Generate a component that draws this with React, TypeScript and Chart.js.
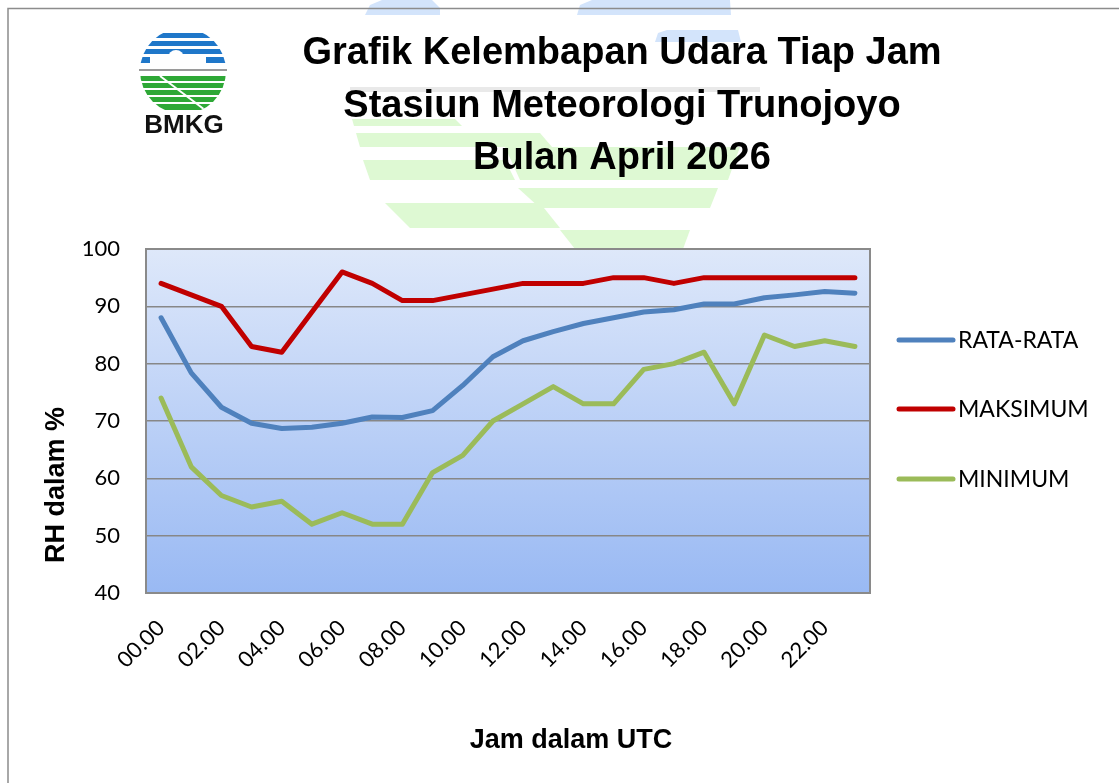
import React, { useEffect, useRef } from "react";
import { Chart, registerables } from "chart.js";

Chart.register(...registerables);

const HOURS = [
  "00.00", "01.00", "02.00", "03.00", "04.00", "05.00", "06.00", "07.00",
  "08.00", "09.00", "10.00", "11.00", "12.00", "13.00", "14.00", "15.00",
  "16.00", "17.00", "18.00", "19.00", "20.00", "21.00", "22.00", "23.00",
];
const X_TICK_LABELS = ["00.00", "02.00", "04.00", "06.00", "08.00", "10.00", "12.00", "14.00", "16.00", "18.00", "20.00", "22.00"];
const RATA_RATA = [88.0, 78.4, 72.4, 69.6, 68.7, 68.9, 69.6, 70.7, 70.6, 71.8, 76.2, 81.2, 84.0, 85.6, 87.0, 88.0, 89.0, 89.4, 90.4, 90.4, 91.5, 92.0, 92.6, 92.3];
const MAKSIMUM = [94, 92, 90, 83, 82, 89, 96, 94, 91, 91, 92, 93, 94, 94, 94, 95, 95, 94, 95, 95, 95, 95, 95, 95];
const MINIMUM = [74, 62, 57, 55, 56, 52, 54, 52, 52, 61, 64, 70, 73, 76, 73, 73, 79, 80, 82, 73, 85, 83, 84, 83];
const SERIES_NAMES = ["RATA-RATA", "MAKSIMUM", "MINIMUM"];
const Y_TICKS = [40, 50, 60, 70, 80, 90, 100];

const TITLE_LINES = ["Grafik Kelembapan Udara Tiap Jam", "Stasiun Meteorologi Trunojoyo", "Bulan April 2026"];
const X_TITLE = "Jam dalam UTC";
const Y_TITLE = "RH dalam %";

const TITLE_FONT = "bold 38px 'Liberation Sans', Arial, sans-serif";
const AXIS_TITLE_FONT = "bold 27px 'Liberation Sans', Arial, sans-serif";
const TICK_FAMILY = "Lato, 'Noto Sans', sans-serif";

type Pt = [number, number];
function poly(ctx: CanvasRenderingContext2D, pts: Pt[]) {
  ctx.beginPath();
  ctx.moveTo(pts[0][0], pts[0][1]);
  for (let i = 1; i < pts.length; i++) ctx.lineTo(pts[i][0], pts[i][1]);
  ctx.closePath();
  ctx.fill();
}

function drawWatermark(ctx: CanvasRenderingContext2D) {
  ctx.save();
  ctx.fillStyle = "#d3e4fb";
  poly(ctx, [[365, 15], [370, 5], [382, 0], [432, 0], [440, 8], [440, 15]]);
  poly(ctx, [[577, 15], [580, 5], [592, 0], [730, 0], [731, 15]]);
  poly(ctx, [[655, 42], [658, 33], [667, 30], [738, 30], [741, 42]]);
  ctx.fillStyle = "#e9e9e9";
  ctx.fillRect(350, 87, 410, 5);
  ctx.fillStyle = "#def9d3";
  poly(ctx, [[352, 119], [455, 119], [462, 126], [354, 126]]);
  poly(ctx, [[356, 133], [540, 133], [552, 147], [360, 147]]);
  poly(ctx, [[505, 147], [740, 147], [728, 180], [520, 180]]);
  poly(ctx, [[363, 160], [505, 160], [515, 180], [370, 180]]);
  poly(ctx, [[518, 188], [718, 188], [710, 208], [540, 208]]);
  poly(ctx, [[385, 203], [540, 203], [560, 228], [410, 228]]);
  poly(ctx, [[560, 230], [690, 230], [683, 249], [575, 249]]);
  ctx.restore();
}

function drawLogo(ctx: CanvasRenderingContext2D) {
  const cx = 183, cy = 71, r = 43;
  ctx.save();
  ctx.beginPath();
  ctx.arc(cx, cy, r, 0, Math.PI * 2);
  ctx.clip();
  ctx.fillStyle = "#1f77c9";
  [[33, 38], [41, 46], [49, 54], [57, 63]].forEach(([a, b]) => ctx.fillRect(cx - r, a, 2 * r, b - a));
  ctx.fillStyle = "#ffffff";
  ctx.fillRect(150, 57, 56, 8);
  ctx.beginPath(); ctx.arc(176, 58, 8, 0, Math.PI * 2); ctx.fill();
  ctx.beginPath(); ctx.arc(162, 60, 5, 0, Math.PI * 2); ctx.fill();
  ctx.beginPath(); ctx.arc(192, 60, 6, 0, Math.PI * 2); ctx.fill();
  ctx.fillStyle = "#2ea836";
  [[76, 81], [83, 88], [90, 95], [97, 102], [104, 110]].forEach(([a, b]) => ctx.fillRect(cx - r, a, 2 * r, b - a));
  ctx.strokeStyle = "#ffffff";
  ctx.lineWidth = 2;
  ctx.beginPath(); ctx.moveTo(160, 76); ctx.lineTo(205, 110); ctx.stroke();
  ctx.restore();
  ctx.fillStyle = "#9a9a9a";
  ctx.fillRect(139, 69, 88, 2);
  ctx.fillStyle = "#111111";
  ctx.font = "bold 26px 'Liberation Sans', Arial, sans-serif";
  ctx.textAlign = "center";
  ctx.textBaseline = "alphabetic";
  ctx.fillText("BMKG", 184, 133);
}

const decorPlugin = {
  id: "decor",
  beforeDraw(chart: any) {
    const ctx: CanvasRenderingContext2D = chart.ctx;
    const { left, top, right, bottom } = chart.chartArea;
    ctx.save();
    ctx.fillStyle = "#ffffff";
    ctx.fillRect(0, 0, chart.width, chart.height);
    drawWatermark(ctx);
    ctx.strokeStyle = "#8c8c8c";
    ctx.lineWidth = 1.5;
    ctx.beginPath();
    ctx.moveTo(8, chart.height);
    ctx.lineTo(8, 8.5);
    ctx.lineTo(chart.width, 8.5);
    ctx.stroke();
    const g = ctx.createLinearGradient(0, top, 0, bottom);
    g.addColorStop(0, "#dee8fa");
    g.addColorStop(1, "#99b9f3");
    ctx.fillStyle = g;
    ctx.fillRect(left, top, right - left, bottom - top);
    drawLogo(ctx);
    ctx.fillStyle = "#000000";
    ctx.font = TITLE_FONT;
    ctx.textAlign = "center";
    ctx.textBaseline = "alphabetic";
    const baselines = [64, 117, 169];
    TITLE_LINES.forEach((t, i) => ctx.fillText(t, 622, baselines[i]));
    ctx.font = AXIS_TITLE_FONT;
    ctx.fillText(X_TITLE, 571, 748);
    ctx.save();
    ctx.translate(57, 485);
    ctx.rotate(-Math.PI / 2);
    ctx.textBaseline = "middle";
    ctx.fillText(Y_TITLE, 0, 0);
    ctx.restore();
    const legendY = [340, 409, 479];
    chart.data.datasets.forEach((ds: any, i: number) => {
      ctx.strokeStyle = ds.borderColor;
      ctx.lineWidth = 5;
      ctx.lineCap = "round";
      ctx.beginPath();
      ctx.moveTo(899, legendY[i]);
      ctx.lineTo(953, legendY[i]);
      ctx.stroke();
      ctx.fillStyle = "#000000";
      ctx.font = `23px ${TICK_FAMILY}`;
      ctx.textAlign = "left";
      ctx.textBaseline = "middle";
      ctx.fillText(ds.label, 958, legendY[i] + 1);
    });
    ctx.restore();
  },
  beforeDatasetsDraw(chart: any) {
    const ctx: CanvasRenderingContext2D = chart.ctx;
    const { left, top, right, bottom } = chart.chartArea;
    ctx.save();
    ctx.strokeStyle = "#8a8a8a";
    ctx.lineWidth = 2;
    ctx.strokeRect(left, top, right - left, bottom - top);
    ctx.restore();
  },
};

export default function App() {
  const ref = useRef<HTMLCanvasElement | null>(null);
  useEffect(() => {
    document.body.style.margin = "0";
    document.body.style.overflow = "hidden";
    const canvas = ref.current!;
    const chart = new Chart(canvas, {
      type: "line",
      data: {
        labels: HOURS,
        datasets: [
          { label: SERIES_NAMES[0], data: RATA_RATA, borderColor: "#4f81bd", backgroundColor: "#4f81bd" },
          { label: SERIES_NAMES[1], data: MAKSIMUM, borderColor: "#c00000", backgroundColor: "#c00000" },
          { label: SERIES_NAMES[2], data: MINIMUM, borderColor: "#9bbb59", backgroundColor: "#9bbb59" },
        ].map((d) => ({
          ...d,
          borderWidth: 5,
          pointRadius: 0,
          pointHoverRadius: 0,
          tension: 0,
          fill: false,
          borderCapStyle: "round" as const,
          borderJoinStyle: "round" as const,
        })),
      },
      options: {
        responsive: false,
        animation: false,
        layout: { padding: { left: 0, top: 249, right: 249, bottom: 0 } },
        plugins: { legend: { display: false }, title: { display: false }, tooltip: { enabled: false } },
        events: [],
        scales: {
          x: {
            type: "category",
            offset: true,
            grid: { display: false, drawTicks: false },
            border: { display: false },
            ticks: {
              autoSkip: false,
              maxRotation: 45,
              minRotation: 45,
              padding: 22,
              color: "#000000",
              font: { family: TICK_FAMILY, size: 22 },
              callback: (_v: any, i: number) => (X_TICK_LABELS.includes(HOURS[i]) ? HOURS[i] : ""),
            },
            afterFit: (s: any) => { s.height = 190; },
          },
          y: {
            min: Y_TICKS[0],
            max: Y_TICKS[Y_TICKS.length - 1],
            afterBuildTicks: (s: any) => { s.ticks = Y_TICKS.map((v) => ({ value: v })); },
            grid: { color: "#878787", lineWidth: 1.5, drawTicks: false },
            border: { display: false },
            ticks: {
              padding: 26,
              color: "#000000",
              font: { family: TICK_FAMILY, size: 22 },
            },
            afterFit: (s: any) => { s.width = 146; },
          },
        },
      },
      plugins: [decorPlugin],
    });
    return () => chart.destroy();
  }, []);
  return <canvas ref={ref} width={1119} height={783} style={{ display: "block", width: 1119, height: 783 }} />;
}
